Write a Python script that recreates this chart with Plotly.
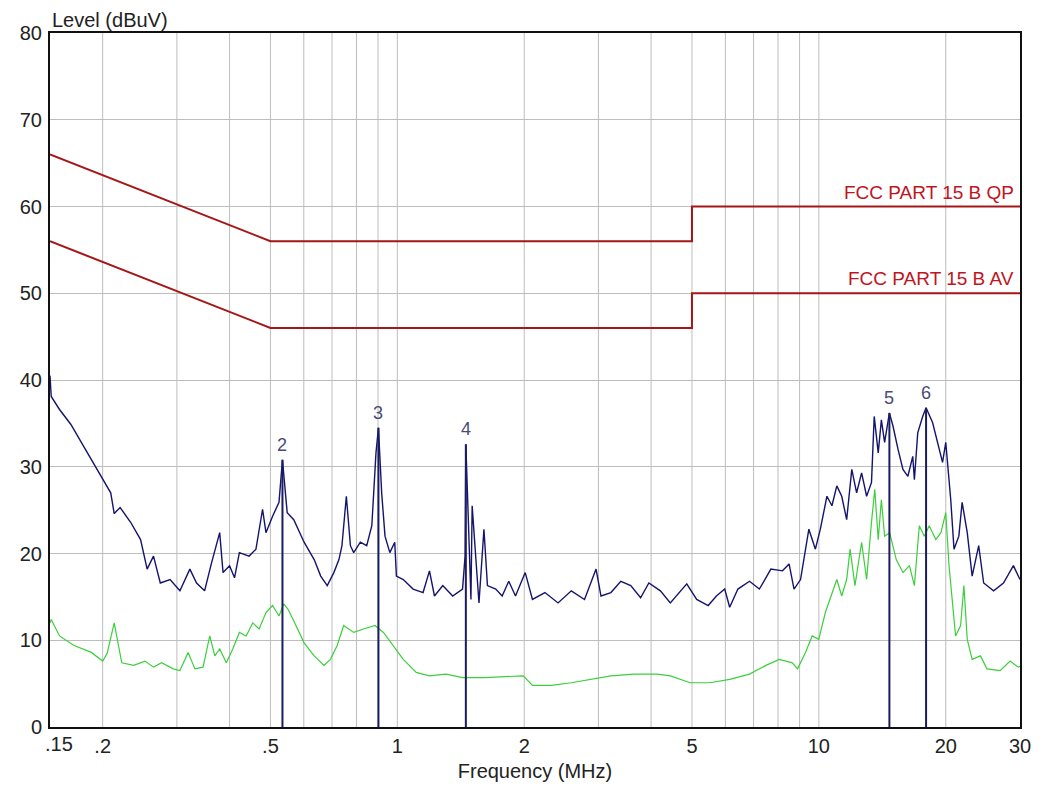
import plotly.graph_objects as go
import math

# ---------------- data ----------------
peak_freq = [0.150, 0.151, 0.158, 0.168, 0.178, 0.188, 0.198, 0.209, 0.213, 0.220,
             0.233, 0.246, 0.255, 0.264, 0.274, 0.289, 0.305, 0.322, 0.334, 0.349,
             0.362, 0.379, 0.386, 0.400, 0.411, 0.422, 0.445, 0.462, 0.479, 0.488,
             0.506, 0.524, 0.534, 0.548, 0.568, 0.601, 0.635, 0.658, 0.682, 0.707,
             0.727, 0.739, 0.757, 0.774, 0.788, 0.817, 0.846, 0.870, 0.890, 0.902,
             0.918, 0.935, 0.960, 0.986, 0.995, 1.033, 1.090, 1.151, 1.192, 1.225,
             1.282, 1.353, 1.428, 1.448, 1.454, 1.495, 1.505, 1.534, 1.562, 1.605,
             1.636, 1.712, 1.773, 1.838, 1.907, 2.011, 2.092, 2.240, 2.406, 2.587,
             2.780, 2.961, 3.042, 3.211, 3.390, 3.579, 3.777, 3.951, 4.208, 4.442,
             4.860, 5.130, 5.463, 5.714, 5.979, 6.144, 6.426, 6.846, 7.226, 7.694,
             8.197, 8.499, 8.731, 9.048, 9.468, 9.812, 10.08, 10.45, 10.74, 11.03,
             11.33, 11.64, 11.97, 12.29, 12.63, 12.98, 13.33, 13.53, 13.83, 14.07,
             14.32, 14.70, 14.99, 15.41, 15.83, 16.26, 16.70, 16.85, 17.16, 17.63,
             17.96, 18.61, 19.12, 19.65, 20.00, 20.55, 20.92, 21.48, 21.87, 22.49,
             23.10, 23.94, 24.60, 25.97, 27.41, 28.94, 30.00]
peak_level = [40.5, 38.1, 36.6, 34.9, 32.8, 30.8, 28.9, 27.0, 24.6, 25.3,
              23.6, 21.6, 18.2, 19.7, 16.6, 17.0, 15.7, 18.2, 16.6, 15.7,
              18.8, 22.4, 17.8, 18.6, 17.2, 20.1, 19.7, 20.5, 25.1, 22.4,
              24.3, 25.9, 30.8, 24.7, 23.9, 21.3, 19.3, 17.4, 16.3, 17.8,
              19.3, 20.9, 26.6, 20.9, 20.1, 21.3, 20.9, 23.2, 31.6, 34.5,
              27.0, 22.0, 20.1, 21.3, 17.4, 17.0, 15.9, 15.5, 18.0, 15.1,
              16.3, 15.1, 15.9, 19.7, 32.6, 14.7, 25.5, 19.3, 14.3, 22.8,
              16.3, 15.9, 15.1, 16.8, 15.1, 17.8, 14.7, 15.5, 14.3, 15.7,
              14.7, 18.2, 15.1, 15.5, 16.8, 16.3, 14.9, 16.6, 15.7, 14.3,
              16.5, 14.7, 14.0, 15.1, 15.9, 13.8, 15.9, 16.8, 15.9, 18.2,
              18.0, 18.8, 15.9, 17.0, 22.8, 20.5, 22.8, 26.6, 25.5, 27.8,
              26.6, 23.9, 29.7, 27.0, 29.3, 26.6, 28.2, 35.8, 31.6, 35.4,
              32.8, 36.2, 34.7, 32.0, 29.7, 28.9, 31.2, 28.5, 33.9, 35.8,
              36.8, 35.1, 32.8, 30.5, 32.8, 26.2, 20.5, 22.0, 25.9, 22.4,
              17.4, 20.9, 16.6, 15.7, 16.6, 18.6, 17.0]

avg_freq = [0.150, 0.151, 0.158, 0.171, 0.188, 0.200, 0.205, 0.213, 0.222, 0.237,
            0.252, 0.264, 0.276, 0.294, 0.305, 0.319, 0.331, 0.346, 0.359, 0.369,
            0.379, 0.393, 0.407, 0.422, 0.438, 0.454, 0.470, 0.488, 0.506, 0.524,
            0.538, 0.550, 0.566, 0.601, 0.635, 0.670, 0.694, 0.720, 0.746, 0.788,
            0.831, 0.885, 0.927, 0.977, 1.033, 1.109, 1.191, 1.304, 1.428, 1.619,
            1.871, 1.990, 2.092, 2.322, 2.587, 2.882, 3.211, 3.642, 4.131, 4.442,
            4.950, 5.515, 6.144, 6.846, 7.488, 8.052, 8.652, 8.900, 9.297, 9.639,
            9.993, 10.36, 10.74, 11.03, 11.33, 11.64, 11.86, 12.18, 12.63, 12.98,
            13.33, 13.57, 13.83, 14.07, 14.32, 14.72, 15.26, 15.83, 16.40, 16.85,
            17.31, 17.79, 18.27, 18.94, 19.48, 20.00, 20.36, 20.73, 21.10, 21.69,
            22.08, 22.49, 23.10, 24.17, 25.05, 26.92, 28.42, 29.73, 30.00]
avg_level = [12.0, 12.4, 10.5, 9.4, 8.6, 7.6, 8.5, 12.0, 7.4, 7.1,
             7.6, 6.9, 7.4, 6.7, 6.5, 8.6, 6.7, 6.9, 10.5, 8.2,
             9.0, 7.4, 9.0, 10.9, 10.5, 12.0, 11.3, 13.2, 14.0, 12.8,
             14.2, 13.6, 12.4, 9.7, 8.2, 7.1, 7.8, 9.4, 11.7, 10.9,
             11.3, 11.7, 10.9, 9.4, 7.8, 6.3, 5.9, 6.1, 5.7, 5.7,
             5.9, 5.9, 4.8, 4.8, 5.1, 5.5, 5.9, 6.1, 6.1, 5.9,
             5.1, 5.1, 5.5, 6.1, 7.1, 7.8, 7.4, 6.7, 8.6, 10.5,
             10.1, 13.2, 15.5, 17.0, 15.1, 17.0, 20.5, 16.3, 21.3, 17.0,
             23.6, 27.4, 21.6, 26.2, 22.0, 22.4, 19.3, 17.8, 18.6, 16.3,
             23.2, 22.0, 23.2, 21.6, 22.4, 24.7, 18.6, 14.7, 10.5, 11.7,
             16.3, 10.1, 7.8, 8.2, 6.7, 6.5, 7.6, 6.9, 7.0]

qp_limit_freq = [0.15, 0.5, 5.0, 5.0, 30.0]
qp_limit_level = [66, 56, 56, 60, 60]
av_limit_freq = [0.15, 0.5, 5.0, 5.0, 30.0]
av_limit_level = [56, 46, 46, 50, 50]
limit_names = ["FCC PART 15 B QP", "FCC PART 15 B AV"]

marker_ids = ["2", "3", "4", "5", "6"]
marker_freq = [0.534, 0.902, 1.454, 14.70, 17.96]
marker_level = [30.8, 34.5, 32.6, 36.2, 36.8]

x_range = [0.15, 30]
x_tick_vals = [0.2, 0.5, 1, 2, 5, 10, 20, 30]
x_tick_text = [".2", ".5", "1", "2", "5", "10", "20", "30"]
x_grid_vals = [0.2, 0.3, 0.4, 0.5, 0.6, 0.7, 0.8, 0.9, 1, 2, 3, 4, 5, 6, 7, 8, 9, 10, 20]
y_tick_vals = [0, 10, 20, 30, 40, 50, 60, 70, 80]

FONT = "Liberation Sans, Arial, sans-serif"
GRID = "#bdbdbd"
LIMIT_COLOR = "#a51616"
LABEL_RED = "#c0141e"
TEXT = "#222222"

fig = go.Figure()

# vertical grid lines (minor log decades)
for gv in x_grid_vals:
    fig.add_shape(type="line", xref="x", yref="paper", x0=gv, x1=gv, y0=0, y1=1,
                  line=dict(color=GRID, width=1), layer="below")

# limit lines
fig.add_trace(go.Scatter(x=qp_limit_freq, y=qp_limit_level, mode="lines",
                         line=dict(color=LIMIT_COLOR, width=2), hoverinfo="skip"))
fig.add_trace(go.Scatter(x=av_limit_freq, y=av_limit_level, mode="lines",
                         line=dict(color=LIMIT_COLOR, width=2), hoverinfo="skip"))

# average (green) trace
fig.add_trace(go.Scatter(x=avg_freq, y=avg_level, mode="lines",
                         line=dict(color="#3ccf3c", width=1.2), hoverinfo="skip"))
# peak (blue) trace
fig.add_trace(go.Scatter(x=peak_freq, y=peak_level, mode="lines",
                         line=dict(color="#14146e", width=1.4), hoverinfo="skip"))

# marker lines
mx, my = [], []
for f, v in zip(marker_freq, marker_level):
    mx += [f, f, None]
    my += [0, v, None]
fig.add_trace(go.Scatter(x=mx, y=my, mode="lines",
                         line=dict(color="#1c1c60", width=2), hoverinfo="skip"))

annotations = []
for mid, f, v in zip(marker_ids, marker_freq, marker_level):
    annotations.append(dict(x=math.log10(f), y=v, xref="x", yref="y", text=mid, showarrow=False,
                            yanchor="bottom", yshift=3,
                            font=dict(family=FONT, size=18, color="#4a4a78")))

# limit labels
annotations.append(dict(x=1.0, xref="paper", y=qp_limit_level[-1], yref="y",
                        text=limit_names[0], showarrow=False, xanchor="right",
                        yanchor="bottom", xshift=-4, yshift=2,
                        font=dict(family=FONT, size=19, color=LABEL_RED)))
annotations.append(dict(x=1.0, xref="paper", y=av_limit_level[-1], yref="y",
                        text=limit_names[1], showarrow=False, xanchor="right",
                        yanchor="bottom", xshift=-4, yshift=2,
                        font=dict(family=FONT, size=19, color=LABEL_RED)))

# ".15" tick label (left aligned at axis start)
annotations.append(dict(x=0, xref="paper", y=0, yref="paper", text=".15",
                        showarrow=False, xanchor="left", yanchor="top", xshift=-7, yshift=-4,
                        font=dict(family=FONT, size=20, color=TEXT)))
# y axis title at top-left
annotations.append(dict(x=0, xref="paper", y=1, yref="paper", text="Level (dBuV)",
                        showarrow=False, xanchor="left", yanchor="bottom", xshift=0, yshift=0,
                        font=dict(family=FONT, size=20, color=TEXT)))

fig.update_layout(
    width=1042, height=783,
    margin=dict(l=32, r=30, t=25, b=63),
    paper_bgcolor="white", plot_bgcolor="white",
    showlegend=False,
    font=dict(family=FONT, size=20, color=TEXT),
    annotations=annotations,
    xaxis=dict(type="log", range=[math.log10(x_range[0]), math.log10(x_range[1])],
               tickvals=x_tick_vals, ticktext=x_tick_text, ticks="",
               showgrid=False, zeroline=False,
               showline=True, linecolor="#111111", linewidth=2, mirror=True,
               tickfont=dict(family=FONT, size=20, color=TEXT),
               title=dict(text="Frequency (MHz)", standoff=8,
                          font=dict(family=FONT, size=20, color=TEXT))),
    yaxis=dict(range=[0, 80], tickvals=y_tick_vals, ticks="",
               showgrid=True, gridcolor=GRID, gridwidth=1, zeroline=False,
               showline=True, linecolor="#111111", linewidth=2, mirror=True,
               ticklabelstandoff=2,
               tickfont=dict(family=FONT, size=20, color=TEXT)),
)

fig.write_html("out.html")
